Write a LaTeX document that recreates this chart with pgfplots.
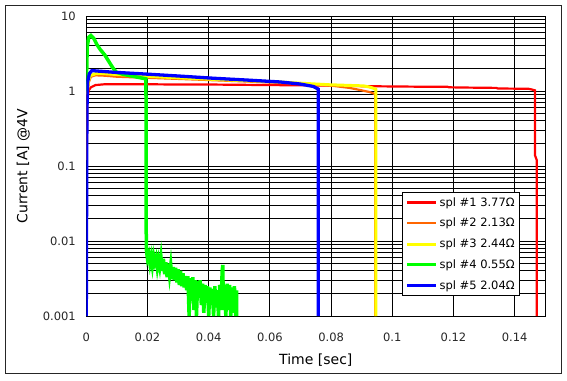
\documentclass[border=0pt]{standalone}
\usepackage{fontspec}
\setmainfont{DejaVu Sans}
\usepackage{pgfplots}
\pgfplotsset{compat=1.18}
\definecolor{cRed}{RGB}{255,0,0}
\definecolor{cOrange}{RGB}{255,102,0}
\definecolor{cYellow}{RGB}{255,255,0}
\definecolor{cGreen}{RGB}{0,255,0}
\definecolor{cBlue}{RGB}{0,0,255}
\begin{document}
\begin{tikzpicture}
\useasboundingbox (-86.3pt,-64pt) rectangle (480.7pt,316pt);
\draw[line width=0.9pt, black!85] (-81.3pt,-57pt) rectangle (474.7pt,311pt);
\begin{axis}[
  at={(0pt,0pt)}, anchor=south west,
  scale only axis, width=459pt, height=300pt,
  xmin=0, xmax=0.15, ymin=0.001, ymax=10, ymode=log, log basis y=10,
  xtick={0,0.02,0.04,0.06,0.08,0.1,0.12,0.14},
  xticklabels={0,0.02,0.04,0.06,0.08,0.1,0.12,0.14},
  ytick={0.001,0.01,0.1,1,10},
  yticklabels={0.001,0.01,0.1,1,10},
  minor ytick={0.002,0.003,0.004,0.005,0.006,0.007,0.008,0.009,
               0.02,0.03,0.04,0.05,0.06,0.07,0.08,0.09,
               0.2,0.3,0.4,0.5,0.6,0.7,0.8,0.9,
               2,3,4,5,6,7,8,9},
  scaled x ticks=false,
  minor x tick num=0,
  grid=both,
  major grid style={black, line width=0.9pt},
  minor grid style={black, line width=0.9pt},
  major tick length=0pt, minor tick length=0pt,
  axis line style={black, line width=0.9pt},
  tick label style={font=\fontsize{11.5}{13}\selectfont, text=black!85},
  xticklabel style={anchor=center, yshift=-21pt},
  yticklabel style={anchor=east, xshift=-7pt},
  xlabel={Time [sec]},
  ylabel={Current [A] @4V},
  every axis x label/.style={at={(axis description cs:0.5,0)}, anchor=center, yshift=-44pt, font=\fontsize{14}{16}\selectfont},
  every axis y label/.style={at={(axis description cs:0,0.5)}, anchor=center, rotate=90, yshift=63pt, font=\fontsize{14}{16}\selectfont},
  legend style={at={(rel axis cs:0.945,0.0667)}, anchor=south east, draw=black, line width=0.8pt, fill=white,
    font=\fontsize{11.5}{13}\selectfont, row sep=6.5pt, inner sep=3pt},
  legend cell align=left,
  legend image code/.code={\draw[#1] (0pt,0pt) -- (29pt,0pt);},
]
\addplot[cRed, line width=2.2pt] coordinates {
(0.0005,0.85)(0.0008,1.02)(0.0015,1.12)(0.003,1.2)(0.006,1.23)(0.012,1.23)(0.02,1.23)(0.03,1.22)
(0.04,1.22)(0.05,1.21)(0.06,1.2)(0.07,1.19)(0.08,1.18)(0.09,1.16)(0.1,1.15)(0.11,1.14)(0.118,1.14)
(0.1185,1.12)(0.125,1.11)(0.134,1.10)(0.1345,1.08)(0.1445,1.07)(0.1455,1.05)(0.1466,1.02)
(0.1466,0.14)(0.1472,0.12)(0.1472,0.001)};
\addlegendentry{spl \#1 3.77Ω}
\addplot[cOrange, line width=2.2pt] coordinates {
(0,0.12)(0.0002,0.19)(0.0004,0.9)(0.0008,1.3)(0.0015,1.55)(0.003,1.62)(0.006,1.6)(0.01,1.55)
(0.02,1.5)(0.03,1.45)(0.04,1.4)(0.05,1.35)(0.06,1.3)(0.07,1.25)(0.08,1.18)(0.086,1.1)(0.09,1.02)
(0.0925,0.97)(0.0938,0.93)(0.0944,0.9)(0.0944,0.001)};
\addlegendentry{spl \#2 2.13Ω}
\addplot[cYellow, line width=3pt] coordinates {
(0.0003,0.9)(0.0006,1.3)(0.0012,1.6)(0.003,1.7)(0.0045,1.72)(0.01,1.66)(0.0197,1.57)(0.03,1.5)
(0.0415,1.43)(0.05,1.38)(0.0633,1.32)(0.07,1.27)(0.0797,1.21)(0.0906,1.17)(0.0925,1.13)
(0.0938,1.09)(0.0946,1.05)(0.0946,0.001)};
\addlegendentry{spl \#3 2.44Ω}
\addplot[cGreen, line width=3.5pt] coordinates {
(0,1.0)(0.0003,3.9)(0.0008,5.2)(0.0015,5.5)(0.0025,5.0)(0.0034,4.2)(0.0045,3.6)(0.0061,3.0)
(0.0073,2.5)(0.0083,2.15)(0.0092,1.9)(0.0099,1.78)(0.012,1.67)(0.0143,1.6)(0.017,1.52)(0.0192,1.46)
(0.0195,1.45)(0.0196,0.008)
(0.0197,0.0072)(0.0200,0.0058)(0.0204,0.0066)(0.0208,0.0050)(0.0212,0.0062)(0.0216,0.0047)
(0.0220,0.0063)(0.0224,0.0052)(0.0228,0.0060)(0.0232,0.0044)(0.0236,0.0056)(0.0240,0.0045)
(0.0244,0.0061)(0.0248,0.0040)(0.0252,0.0058)(0.0256,0.0036)(0.0260,0.0052)(0.0264,0.0033)
(0.0268,0.0050)(0.0272,0.0035)(0.0276,0.0048)(0.0280,0.0031)(0.0284,0.0045)(0.0288,0.0030)
(0.0292,0.0044)(0.0296,0.0028)(0.0300,0.0042)(0.0304,0.0026)(0.0308,0.0040)(0.0312,0.0025)
(0.0316,0.0037)(0.0320,0.0024)(0.0324,0.0034)(0.0328,0.0022)(0.0332,0.0034)(0.0336,0.0010)
(0.0340,0.0032)(0.0344,0.0016)(0.0348,0.0033)(0.0352,0.0012)(0.0356,0.0030)(0.0360,0.0010)
(0.0364,0.0029)(0.0368,0.0018)(0.0372,0.0030)(0.0376,0.0014)(0.0380,0.0027)(0.0384,0.0011)
(0.0388,0.0026)(0.0392,0.0015)(0.0396,0.0025)(0.0400,0.0010)(0.0404,0.0024)(0.0408,0.0014)
(0.0412,0.0023)(0.0416,0.0010)(0.0420,0.0025)(0.0424,0.0013)(0.0428,0.0022)(0.0432,0.0010)
(0.0436,0.0026)(0.0440,0.0012)(0.0444,0.0040)(0.0446,0.0048)(0.0448,0.0012)(0.0452,0.0025)
(0.0456,0.0010)(0.0460,0.0027)(0.0464,0.0012)(0.0468,0.0026)(0.0472,0.0010)(0.0476,0.0024)
(0.0480,0.0011)(0.0484,0.0025)(0.0488,0.0010)(0.0491,0.0022)(0.0491,0.0010)};
\addlegendentry{spl \#4 0.55Ω}
\addplot[cBlue, line width=3.3pt] coordinates {
(0,0.001)(0.0002,0.5)(0.0004,1.3)(0.001,1.7)(0.0018,1.87)(0.0088,1.78)(0.0197,1.68)(0.0306,1.58)
(0.0415,1.48)(0.0524,1.4)(0.0633,1.32)(0.0698,1.24)(0.0742,1.15)(0.0758,1.06)(0.0758,0.001)};
\addlegendentry{spl \#5 2.04Ω}
\end{axis}
\end{tikzpicture}
\end{document}
